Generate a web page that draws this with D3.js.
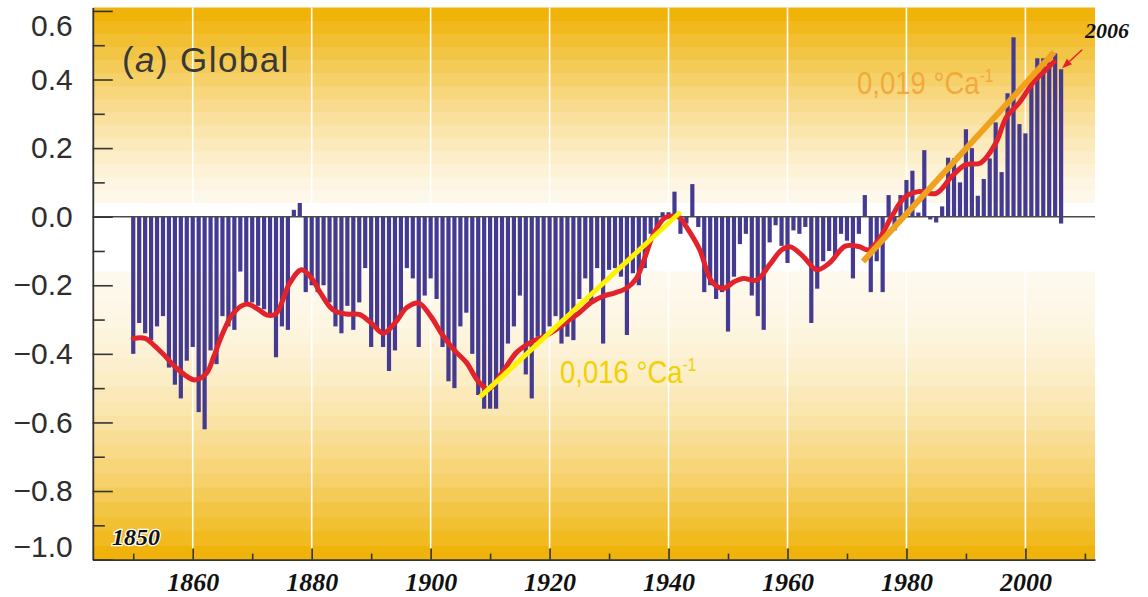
<!DOCTYPE html>
<html>
<head>
<meta charset="utf-8">
<script src="https://cdn.jsdelivr.net/npm/d3@7"></script>
<style>
  html, body { margin: 0; padding: 0; background: #ffffff; }
  svg { display: block; }
</style>
</head>
<body>
<svg id="chart" width="1148" height="597"></svg>
<script>
// Global mean temperature anomaly (°C), annual values from 1850
const firstYear = 1850;
const anomalies = [
  // 1850s
  -0.40, -0.31, -0.34, -0.36, -0.32, -0.29, -0.44, -0.49, -0.53, -0.42,
  // 1860s
  -0.38, -0.57, -0.62, -0.39, -0.43, -0.29, -0.32, -0.33, -0.16, -0.25,
  // 1870s
  -0.25, -0.26, -0.27, -0.29, -0.41, -0.32, -0.33, 0.02, 0.04, -0.22,
  // 1880s
  -0.20, -0.22, -0.20, -0.25, -0.32, -0.34, -0.26, -0.33, -0.25, -0.15,
  // 1890s
  -0.38, -0.33, -0.38, -0.45, -0.39, -0.29, -0.15, -0.18, -0.38, -0.23,
  // 1900s
  -0.18, -0.24, -0.38, -0.48, -0.50, -0.32, -0.28, -0.40, -0.52, -0.56,
  // 1910s
  -0.56, -0.56, -0.47, -0.37, -0.32, -0.23, -0.46, -0.53, -0.35, -0.35,
  // 1920s
  -0.32, -0.29, -0.37, -0.35, -0.36, -0.24, -0.18, -0.25, -0.15, -0.37,
  // 1930s
  -0.155, -0.15, -0.175, -0.345, -0.165, -0.20, -0.15, -0.05, -0.035, 0.013,
  // 1940s
  0.013, 0.073, -0.05, -0.02, 0.095, -0.03, -0.22, -0.20, -0.24, -0.22,
  // 1950s
  -0.335, -0.175, -0.08, -0.05, -0.23, -0.29, -0.33, -0.075, -0.025, -0.085,
  // 1960s
  -0.135, -0.04, -0.05, -0.03, -0.31, -0.21, -0.13, -0.10, -0.12, -0.05,
  // 1970s
  -0.07, -0.18, -0.05, 0.063, -0.22, -0.13, -0.22, 0.063, -0.04, 0.063,
  // 1980s
  0.107, 0.134, 0.012, 0.194, -0.008, -0.017, 0.03, 0.172, 0.17, 0.10,
  // 1990s
  0.255, 0.20, 0.061, 0.11, 0.17, 0.275, 0.13, 0.36, 0.523, 0.27,
  // 2000s
  0.243, 0.39, 0.462, 0.462, 0.45, 0.476
];
// The 2006 bar is drawn as a span
const lastBar = { year: 2006, low: -0.02, high: 0.43 };

// Decadal smoothed curve
const smoothYears = [
  1850, 1852, 1853.5, 1855, 1857.5, 1860.3, 1862.3, 1863.5, 1864.8, 1866.8,
  1869, 1871, 1872.5, 1874, 1876.3, 1878.3, 1880, 1881.5, 1883.6, 1885.9,
  1888, 1890, 1892, 1894, 1896, 1898, 1900, 1902, 1904, 1906,
  1908, 1909.7, 1912, 1914.5, 1917, 1919, 1921, 1923, 1925, 1927,
  1929, 1931, 1933, 1934.6, 1936, 1937.5, 1939.5, 1941.8, 1943, 1945.2,
  1947.3, 1949.2, 1951, 1952.5, 1954.8, 1957, 1959, 1960.5, 1962.7, 1964.9,
  1967, 1969.7, 1972, 1973.6, 1975.3, 1977.5, 1979.8, 1982, 1985, 1987.6,
  1989.9, 1992.5, 1995, 1996.8, 1999, 2001.2, 2003.4, 2004.8
];
const smoothValues = [
  -0.355, -0.355, -0.375, -0.40, -0.445, -0.476, -0.457, -0.41, -0.35, -0.282,
  -0.255, -0.27, -0.287, -0.283, -0.194, -0.155, -0.18, -0.223, -0.272, -0.284,
  -0.285, -0.31, -0.34, -0.31, -0.265, -0.252, -0.29, -0.345, -0.39, -0.425,
  -0.48, -0.503, -0.455, -0.395, -0.365, -0.35, -0.33, -0.305, -0.28, -0.25,
  -0.232, -0.222, -0.208, -0.18, -0.12, -0.05, -0.002, -0.002, -0.03, -0.095,
  -0.19, -0.209, -0.19, -0.18, -0.185, -0.14, -0.097, -0.088, -0.117, -0.155,
  -0.136, -0.086, -0.087, -0.097, -0.068, 0.0, 0.058, 0.073, 0.068, 0.117,
  0.151, 0.157, 0.214, 0.29, 0.333, 0.389, 0.428, 0.452
];

// Linear warming trends (°C per year) over two periods
const trendStart = [1908.3, 1972.7];
const trendEnd = [1942.0, 2004.8];
const trendRate = [0.016, 0.019];
const trendMidValue = [-0.256, 0.1745];
const trendLabel = ["0,016 °Ca", "0,019 °Ca"];

// Axis ticks
const yMajorTicks = [-1.0, -0.8, -0.6, -0.4, -0.2, 0.0, 0.2, 0.4, 0.6];
const yTickLabels = ["\u22121.0", "\u22120.8", "\u22120.6", "\u22120.4", "\u22120.2", "0.0", "0.2", "0.4", "0.6"];
const yMinorTicks = [-0.9, -0.7, -0.5, -0.3, -0.1, 0.1, 0.3, 0.5];
const xMajorTicks = [1860, 1880, 1900, 1920, 1940, 1960, 1980, 2000];
const xTickLabels = ["1860", "1880", "1900", "1920", "1940", "1960", "1980", "2000"];
const xMinorTicks = [1850, 1870, 1890, 1910, 1930, 1950, 1970, 1990, 2010];

// ---- drawing ----
const svg = d3.select("#chart");
const pLeft = 92.8, pRight = 1095, pTop = 7.5, pBottom = 559.6;

const x = d3.scaleLinear().domain([1843.2, 2011.7]).range([pLeft, pRight]);
const y = d3.scaleLinear().domain([-1.0, 0.61]).range([pBottom, pTop]);

// stepped background: orange at top and bottom, white around zero
const bg = svg.append("g");
const paper = "#fef9ed", amber = "#efb000";
const mix = d3.interpolateRgb(paper, amber);
const whiteTop = 0.04, whiteBottom = -0.16;
const upSteps = 15, downSteps = 20;
for (let i = 0; i < upSteps; i++) {
  const v0 = whiteTop + (0.61 - whiteTop) * i / upSteps;
  const v1 = whiteTop + (0.61 - whiteTop) * (i + 1) / upSteps;
  const t = (i + 0.5) / upSteps;
  bg.append("rect").attr("x", pLeft).attr("width", pRight - pLeft)
    .attr("y", y(v1)).attr("height", y(v0) - y(v1) + 0.5)
    .attr("fill", mix(Math.pow(t, 1.3)));
}
bg.append("rect").attr("x", pLeft).attr("width", pRight - pLeft)
  .attr("y", y(whiteTop)).attr("height", y(whiteBottom) - y(whiteTop))
  .attr("fill", "#ffffff");
for (let i = 0; i < downSteps; i++) {
  const v0 = whiteBottom - (whiteBottom + 1.0) * i / downSteps;
  const v1 = whiteBottom - (whiteBottom + 1.0) * (i + 1) / downSteps;
  const t = (i + 0.5) / downSteps;
  bg.append("rect").attr("x", pLeft).attr("width", pRight - pLeft)
    .attr("y", y(v0)).attr("height", y(v1) - y(v0) + 0.5)
    .attr("fill", mix(Math.pow(t, 1.8)));
}

// white vertical grid lines
svg.append("g").selectAll("line").data(xMajorTicks).join("line")
  .attr("x1", d => x(d)).attr("x2", d => x(d))
  .attr("y1", pTop).attr("y2", pBottom - 11)
  .attr("stroke", "#ffffff").attr("stroke-width", 1.6);

// annual bars
const barW = 4.2;
const barColor = "#443a92";
svg.append("g").selectAll("rect").data(anomalies).join("rect")
  .attr("x", (d, i) => x(firstYear + i) - barW / 2)
  .attr("width", barW)
  .attr("y", d => y(Math.max(0, d)))
  .attr("height", d => Math.abs(y(d) - y(0)))
  .attr("fill", barColor);
svg.append("rect")
  .attr("x", x(lastBar.year) - barW / 2).attr("width", barW)
  .attr("y", y(lastBar.high)).attr("height", y(lastBar.low) - y(lastBar.high))
  .attr("fill", barColor);

// zero line
svg.append("line")
  .attr("x1", pLeft).attr("x2", pRight)
  .attr("y1", y(0)).attr("y2", y(0))
  .attr("stroke", "#4a4a4a").attr("stroke-width", 1.4);

// smoothed curve
const smoothLine = d3.line()
  .x(d => x(d[0])).y(d => y(d[1]))
  .curve(d3.curveCatmullRom.alpha(0.5));
svg.append("path")
  .datum(smoothYears.map((yr, i) => [yr, smoothValues[i]]))
  .attr("d", smoothLine)
  .attr("fill", "none").attr("stroke", "#e3232b")
  .attr("stroke-width", 5).attr("stroke-linejoin", "round").attr("stroke-linecap", "round");

// trend lines
const trendColors = ["#fff200", "#f0a21e"];
const trendWidths = [5, 6];
trendStart.forEach((s, i) => {
  const mid = (trendStart[i] + trendEnd[i]) / 2;
  const a = trendMidValue[i] + trendRate[i] * (trendStart[i] - mid);
  const b = trendMidValue[i] + trendRate[i] * (trendEnd[i] - mid);
  svg.append("line")
    .attr("x1", x(trendStart[i])).attr("y1", y(a))
    .attr("x2", x(trendEnd[i])).attr("y2", y(b))
    .attr("stroke", trendColors[i]).attr("stroke-width", trendWidths[i])
    .attr("stroke-linecap", "butt");
});

// axes
const axisColor = "#333333";
const yAxis = svg.append("g").attr("transform", `translate(${pLeft},0)`)
  .call(d3.axisLeft(y).tickValues(yMajorTicks)
    .tickFormat((d, i) => yTickLabels[i])
    .tickSize(-20).tickSizeOuter(0).tickPadding(20));
yAxis.selectAll(".tick text")
  .attr("transform", d => {
    const yy = Math.min(547, Math.max(26, y(d)));
    return `translate(0,${yy - y(d)})`;
  });
const yMinor = svg.append("g").attr("transform", `translate(${pLeft},0)`)
  .call(d3.axisLeft(y).tickValues(yMinorTicks).tickFormat("").tickSize(-12).tickSizeOuter(0));
yMinor.select(".domain").remove();

const xAxis = svg.append("g").attr("transform", `translate(0,${pBottom})`)
  .call(d3.axisBottom(x).tickValues(xMajorTicks)
    .tickFormat((d, i) => xTickLabels[i])
    .tickSize(-11).tickSizeOuter(0).tickPadding(13));
const xMinor = svg.append("g").attr("transform", `translate(0,${pBottom})`)
  .call(d3.axisBottom(x).tickValues(xMinorTicks).tickFormat("").tickSize(-6).tickSizeOuter(0));
xMinor.select(".domain").remove();

svg.selectAll(".domain").attr("stroke", axisColor).attr("stroke-width", 1.8);
svg.selectAll(".tick line").attr("stroke", axisColor).attr("stroke-width", 1.6);

yAxis.attr("font-family", "'Liberation Sans', Arial, Helvetica, sans-serif")
  .attr("font-size", 30);
yAxis.selectAll(".tick text").attr("fill", "#2e2e2e");

xAxis.attr("font-family", "'Liberation Serif', 'Times New Roman', serif")
  .attr("font-size", 26);
xAxis.selectAll(".tick text").attr("fill", "#111111")
  .attr("font-weight", "bold").attr("font-style", "italic");

// panel title
const title = svg.append("text")
  .attr("x", 122).attr("y", 72)
  .attr("font-family", "'Liberation Sans', Arial, Helvetica, sans-serif")
  .attr("font-size", 35).attr("letter-spacing", 1.4)
  .attr("fill", "#383838");
title.append("tspan").text("(");
title.append("tspan").attr("font-style", "italic").text("a");
title.append("tspan").text(") Global");

// trend labels
const labelColors = ["#f3d000", "#f2a93a"];
const labelPos = [[560, 383], [857, 94]];
trendLabel.forEach((txt, i) => {
  const t = svg.append("text")
    .attr("transform", `translate(${labelPos[i][0]},${labelPos[i][1]}) scale(0.86,1)`)
    .attr("font-family", "'Liberation Sans', Arial, Helvetica, sans-serif")
    .attr("font-size", 32).attr("fill", labelColors[i]);
  t.append("tspan").text(txt);
  t.append("tspan").attr("font-size", 18).attr("dy", -12).text("-1");
});

// year markers
svg.append("text")
  .attr("x", 112).attr("y", 545)
  .attr("font-family", "'Liberation Serif', 'Times New Roman', serif")
  .attr("font-size", 24).attr("font-weight", "bold").attr("font-style", "italic")
  .attr("fill", "#111111").attr("stroke", "#ffffff").attr("stroke-width", 2.5)
  .attr("paint-order", "stroke")
  .text("1850");

svg.append("text")
  .attr("x", 1085).attr("y", 38)
  .attr("font-family", "'Liberation Serif', 'Times New Roman', serif")
  .attr("font-size", 22).attr("font-weight", "bold").attr("font-style", "italic")
  .attr("fill", "#111111")
  .text("2006");

// arrow pointing at the 2006 bar
const tip = [x(lastBar.year) + 1, y(lastBar.high) - 1];
const tail = [tip[0] + 20, tip[1] - 18.5];
const adx = tail[0] - tip[0], ady = tail[1] - tip[1];
const alen = Math.hypot(adx, ady);
const ux = adx / alen, uy = ady / alen;
const headL = 10, headW = 3.8;
const base = [tip[0] + ux * headL, tip[1] + uy * headL];
svg.append("line")
  .attr("x1", tail[0]).attr("y1", tail[1]).attr("x2", base[0]).attr("y2", base[1])
  .attr("stroke", "#e5202a").attr("stroke-width", 1.5);
svg.append("path")
  .attr("d", `M${tip[0]},${tip[1]}L${base[0] - uy * headW},${base[1] + ux * headW}L${base[0] + uy * headW},${base[1] - ux * headW}Z`)
  .attr("fill", "#e5202a");
</script>
</body>
</html>
